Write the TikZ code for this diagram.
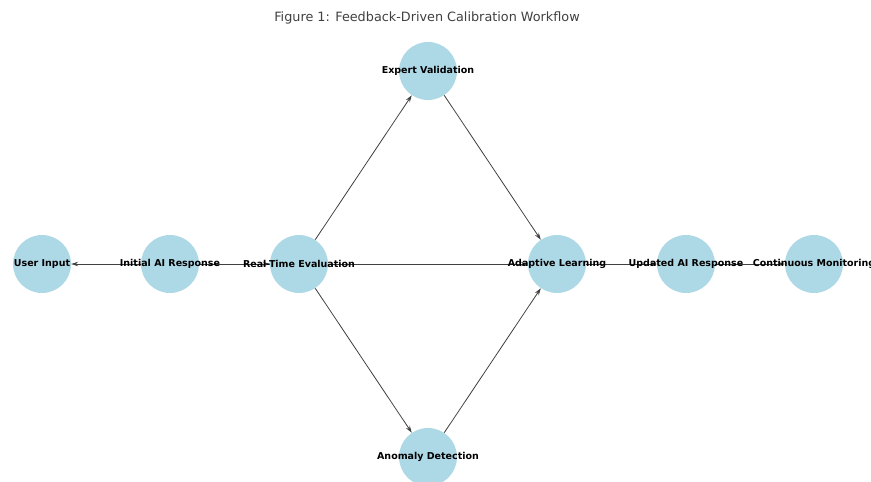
\documentclass[tikz,border=0pt]{standalone}
\usepackage{fontspec}
\setmainfont{DejaVu Sans}
\usetikzlibrary{arrows.meta}
\definecolor{nodeblue}{HTML}{ADD8E6}
\begin{document}
\begin{tikzpicture}[x=1pt,y=-1pt,
  circ/.style={circle,fill=nodeblue,draw=none,minimum size=58pt,inner sep=0pt},
  lbl/.style={font=\fontsize{9.5}{10}\selectfont\bfseries,inner sep=0pt,text=black},
  edge/.style={draw=black!75,line width=0.8pt,-{Stealth[length=7pt,width=4.5pt]}}]
\useasboundingbox (0,0) rectangle (871,482);
\node[font=\fontsize{12.8}{14}\selectfont,text=black!75] (title) at (427,18) {Figure 1: Feedback-Driven Calibration Workflow};
% circles
\node[circ] (ui) at (42,264) {};
\node[circ] (ini) at (170,264) {};
\node[circ] (rt) at (299,264) {};
\node[circ] (ev) at (428,71) {};
\node[circ] (ad) at (428,457) {};
\node[circ] (al) at (557,264) {};
\node[circ] (up) at (686,264) {};
\node[circ] (cm) at (814,264) {};
% edges
\draw[edge] (ini) -- (ui);
\draw[edge] (ini) -- (rt);
\draw[edge] (rt) -- (ev);
\draw[edge] (rt) -- (ad);
\draw[edge] (rt) -- (al);
\draw[edge] (ev) -- (al);
\draw[edge] (ad) -- (al);
\draw[edge] (al) -- (up);
\draw[edge] (up) -- (cm);
% labels
\node[lbl] (ui-t) at (ui) {User Input};
\node[lbl] (ini-t) at (ini) {Initial AI Response};
\node[lbl] (rt-t) at (rt) {Real-Time Evaluation};
\node[lbl] (ev-t) at (ev) {Expert Validation};
\node[lbl] (ad-t) at (ad) {Anomaly Detection};
\node[lbl] (al-t) at (al) {Adaptive Learning};
\node[lbl] (up-t) at (up) {Updated AI Response};
\node[lbl] (cm-t) at (cm) {Continuous Monitoring};
\end{tikzpicture}
\end{document}
